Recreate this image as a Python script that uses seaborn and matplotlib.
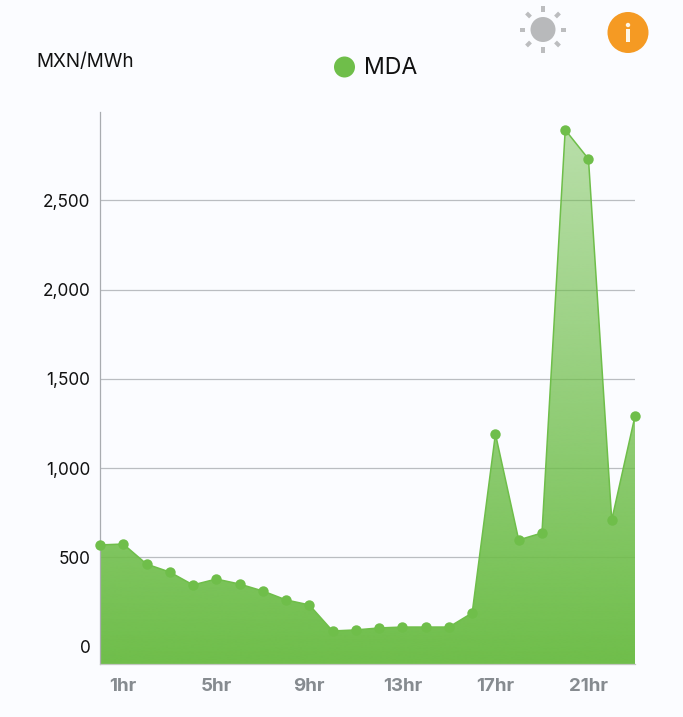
import numpy as np
import pandas as pd
import seaborn as sns
import matplotlib
matplotlib.use("Agg")
import matplotlib.pyplot as plt
from matplotlib.colors import to_rgb
from matplotlib.patches import Circle, Rectangle
from matplotlib.ticker import FuncFormatter

hours = list(range(24))
mda = [570, 575, 463, 418, 346, 379, 351, 312, 262, 234, 88, 94,
       105, 110, 110, 110, 189, 1192, 598, 637, 2895, 2732, 710, 1292]
y_ticks = [0, 500, 1000, 1500, 2000, 2500]
x_ticks = [1, 5, 9, 13, 17, 21]
x_labels = ["1hr", "5hr", "9hr", "13hr", "17hr", "21hr"]

GREEN = "#6fbe4a"
BG = "#fbfcff"
sns.set_theme(style="white")
plt.rcParams["font.family"] = ["Inter", "DejaVu Sans"]

W, H = 683, 717
fig = plt.figure(figsize=(W / 100, H / 100), dpi=100, facecolor=BG)
ax = fig.add_axes([100 / W, (H - 664) / H, 535 / W, 552 / H], facecolor=BG)

df = pd.DataFrame({"hour": hours, "mda": mda})
ymin, ymax = -97, 2995

# gradient fill under the line, clipped to the area polygon
poly = ax.fill_between(df["hour"], df["mda"], ymin, color="none", lw=0)
grad = np.zeros((256, 1, 4))
grad[..., :3] = to_rgb(GREEN)
grad[:, 0, 3] = np.linspace(0.46, 1.0, 256)
im = ax.imshow(grad, extent=(0, 23, ymin, ymax), origin="upper",
               aspect="auto", zorder=2, interpolation="bicubic")
im.set_clip_path(poly.get_paths()[0], transform=ax.transData)

sns.lineplot(data=df, x="hour", y="mda", ax=ax, color=GREEN, lw=1.1,
             marker="o", markersize=7.5, markeredgewidth=0, zorder=3,
             clip_on=False, errorbar=None)

ax.set_xlim(0, 23)
ax.set_ylim(ymin, ymax)
ax.set_xlabel("")
ax.set_ylabel("")
ax.set_yticks(y_ticks)
ax.yaxis.set_major_formatter(FuncFormatter(lambda v, _: f"{int(v):,}"))
ax.set_xticks(x_ticks, x_labels)
ax.tick_params(axis="y", length=0, pad=7, labelsize=12.4, labelcolor="#111111")
ax.tick_params(axis="x", length=0, pad=10, labelsize=13.5, labelcolor="#868b90")
for t in ax.get_xticklabels():
    t.set_fontweight("bold")
for t in ax.get_yticklabels():
    t.set_y(t.get_position()[1])
ax.grid(axis="y", color="#babdc1", lw=0.9)
ax.set_axisbelow(True)
for gl, v in zip(ax.get_ygridlines(), y_ticks):
    gl.set_visible(v != 0)
for s in ["top", "right"]:
    ax.spines[s].set_visible(False)
ax.spines["left"].set_color("#a9acb0")
ax.spines["left"].set_linewidth(0.9)
ax.spines["bottom"].set_color("#c3c7c1")
ax.spines["bottom"].set_linewidth(0.9)

fig.text(36 / W, 1 - 62 / H, "MXN/MWh", fontsize=13.6, color="#111111", va="center", ha="left")

# overlay in pixel coordinates for legend marker and header icons
ov = fig.add_axes([0, 0, 1, 1], facecolor="none")
ov.set_xlim(0, W)
ov.set_ylim(H, 0)
ov.axis("off")
ov.add_patch(Circle((344.5, 67), 10.5, color=GREEN, lw=0))
ov.text(364, 67.5, "MDA", fontsize=16.6, color="#111111", va="center", ha="left")

ov.add_patch(Circle((543, 29.5), 12.5, color="#b8b9bb", lw=0))
for a in np.arange(8) * np.pi / 4:
    ov.add_patch(Rectangle((543 + 20.5 * np.cos(a) - 2.8, 29.5 + 20.5 * np.sin(a) - 2.0),
                           5.6, 4, angle=np.degrees(a), rotation_point="center",
                           color="#bcbdbf", lw=0))

ov.add_patch(Circle((628, 32.5), 20.5, color="#f59a23", lw=0))
ov.add_patch(Circle((628, 25), 2.2, color="#fdf6e8", lw=0))
ov.add_patch(Rectangle((626, 29), 4, 13, color="#fdf6e8", lw=0))

fig.savefig("out.png", dpi=100, facecolor=BG)
